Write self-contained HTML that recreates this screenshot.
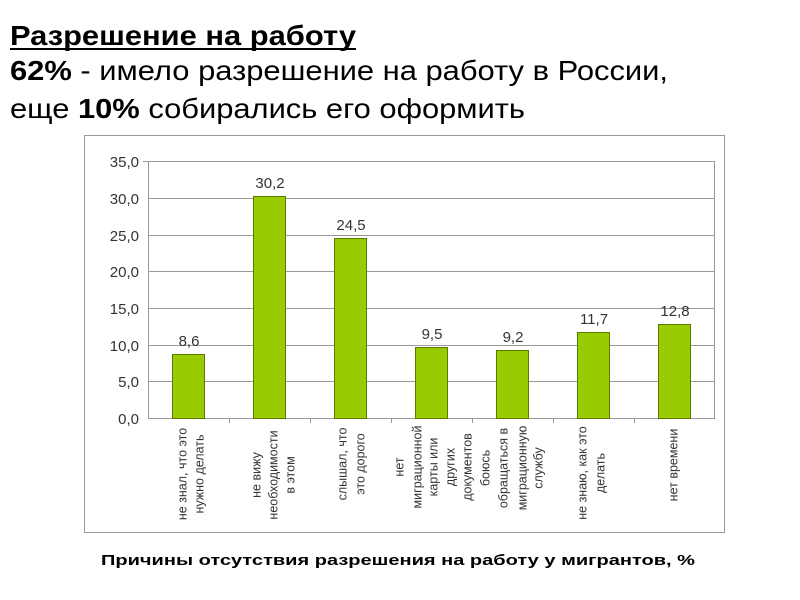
<!DOCTYPE html>
<html><head><meta charset="utf-8"><style>body{margin:0;background:#fff}svg{display:block}</style></head>
<body>
<svg width="800" height="600" xmlns="http://www.w3.org/2000/svg" font-family="Liberation Sans, DejaVu Sans, sans-serif">
<rect width="800" height="600" fill="#fff"/>
<text x="10" y="45" font-size="28" font-weight="bold" textLength="346" lengthAdjust="spacingAndGlyphs">Разрешение на работу</text>
<rect x="10" y="48" width="346" height="2" fill="#000"/>
<text x="10" y="80" font-size="28" textLength="658" lengthAdjust="spacingAndGlyphs"><tspan font-weight="bold">62%</tspan> - имело разрешение на работу в России,</text>
<text x="10" y="118" font-size="28" textLength="515" lengthAdjust="spacingAndGlyphs">еще <tspan font-weight="bold">10%</tspan> собирались его оформить</text>
<rect x="84.5" y="135.5" width="640" height="397" fill="#fff" stroke="#999" stroke-width="1"/>
<g stroke="#999" stroke-width="1">
<line x1="148" y1="161.5" x2="715" y2="161.5"/>
<line x1="148" y1="198.5" x2="715" y2="198.5"/>
<line x1="148" y1="235.5" x2="715" y2="235.5"/>
<line x1="148" y1="271.5" x2="715" y2="271.5"/>
<line x1="148" y1="308.5" x2="715" y2="308.5"/>
<line x1="148" y1="345.5" x2="715" y2="345.5"/>
<line x1="148" y1="381.5" x2="715" y2="381.5"/>
<line x1="148" y1="418.5" x2="715" y2="418.5"/>
<line x1="148.5" y1="161" x2="148.5" y2="418"/>
<line x1="714.5" y1="161" x2="714.5" y2="418"/>
<line x1="143" y1="161.5" x2="148" y2="161.5"/>
<g>
<line x1="229.5" y1="418" x2="229.5" y2="423"/><line x1="310.5" y1="418" x2="310.5" y2="423"/><line x1="391.5" y1="418" x2="391.5" y2="423"/><line x1="472.5" y1="418" x2="472.5" y2="423"/><line x1="553.5" y1="418" x2="553.5" y2="423"/><line x1="634.5" y1="418" x2="634.5" y2="423"/>
</g>
</g>
<g font-size="15" fill="#333" text-anchor="end">
<text x="139" y="167">35,0</text><text x="139" y="204">30,0</text><text x="139" y="241">25,0</text><text x="139" y="277">20,0</text><text x="139" y="314">15,0</text><text x="139" y="351">10,0</text><text x="139" y="387">5,0</text><text x="139" y="424">0,0</text>
</g>
<g fill="#99cc00" stroke="#5a7a00" stroke-width="1">
<rect x="172.5" y="354.5" width="32" height="64"/>
<rect x="253.5" y="196.5" width="32" height="222"/>
<rect x="334.5" y="238.5" width="32" height="180"/>
<rect x="415.5" y="347.5" width="32" height="71"/>
<rect x="496.5" y="350.5" width="32" height="68"/>
<rect x="577.5" y="332.5" width="32" height="86"/>
<rect x="658.5" y="324.5" width="32" height="94"/>
</g>
<g font-size="15" fill="#333" text-anchor="middle">
<text x="189" y="346">8,6</text><text x="270" y="188">30,2</text><text x="351" y="230">24,5</text><text x="432" y="339">9,5</text><text x="513" y="342">9,2</text><text x="594" y="324">11,7</text><text x="675" y="316">12,8</text>
</g>
<g font-size="12.5" fill="#333" text-anchor="middle">
<text transform="translate(186.5,474) rotate(-90)">не знал, что это</text>
<text transform="translate(203.5,474) rotate(-90)">нужно делать</text>
<text transform="translate(260.5,475) rotate(-90)">не вижу</text>
<text transform="translate(277.5,475) rotate(-90)">необходимости</text>
<text transform="translate(294.5,475) rotate(-90)">в этом</text>
<text transform="translate(346.5,464) rotate(-90)">слышал, что</text>
<text transform="translate(364.5,464) rotate(-90)">это дорого</text>
<text transform="translate(403.5,467) rotate(-90)">нет</text>
<text transform="translate(421.5,467) rotate(-90)">миграционной</text>
<text transform="translate(437.5,467) rotate(-90)">карты или</text>
<text transform="translate(454.5,467) rotate(-90)">других</text>
<text transform="translate(471.5,467) rotate(-90)">документов</text>
<text transform="translate(489.5,468) rotate(-90)">боюсь</text>
<text transform="translate(507.5,468) rotate(-90)">обращаться в</text>
<text transform="translate(526.5,468) rotate(-90)">миграционную</text>
<text transform="translate(542.5,468) rotate(-90)">службу</text>
<text transform="translate(586.5,473) rotate(-90)">не знаю, как это</text>
<text transform="translate(604.5,473) rotate(-90)">делать</text>
<text transform="translate(677.5,465) rotate(-90)">нет времени</text>
</g>
<text x="398" y="565" font-size="15" font-weight="bold" text-anchor="middle" textLength="594" lengthAdjust="spacingAndGlyphs">Причины отсутствия разрешения на работу у мигрантов, %</text>
</svg>
</body></html>
